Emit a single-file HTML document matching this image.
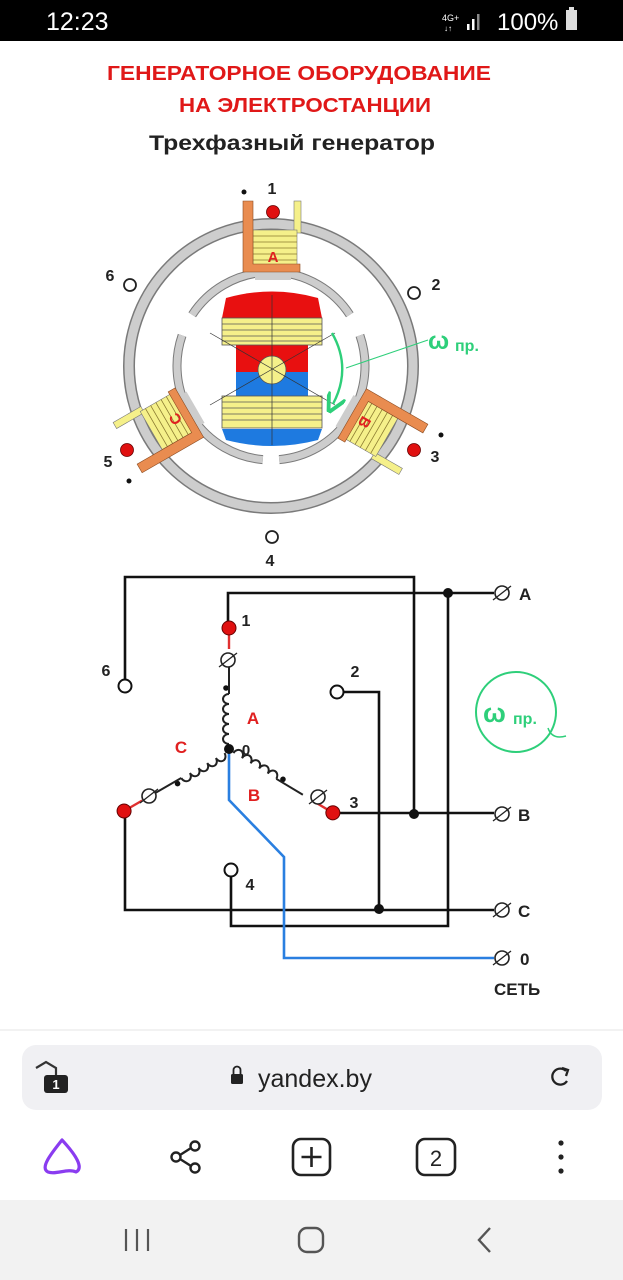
<!DOCTYPE html>
<html><head><meta charset="utf-8"><style>
html,body{margin:0;padding:0;background:#fff;}
body{width:623px;height:1280px;overflow:hidden;position:relative;font-family:"Liberation Sans",sans-serif;}
svg{position:absolute;left:0;top:0;}
</style></head><body>
<svg width="623" height="1280" viewBox="0 0 623 1280" xmlns="http://www.w3.org/2000/svg" font-family="Liberation Sans, sans-serif">
<defs>
<marker id="ga" markerWidth="8" markerHeight="8" refX="4" refY="4" orient="auto"><path d="M0,0 L8,4 L0,8" fill="none" stroke="#2ecf7a" stroke-width="1.6"/></marker>
<g id="gcoil">
  <rect x="294" y="201" width="7" height="32" fill="#f5f08a" stroke="#777" stroke-width="0.6"/>
  <rect x="253" y="230" width="44" height="35" fill="#f5f08a" stroke="#777" stroke-width="0.6"/>
  <g stroke="#8a7a30" stroke-width="0.8">
   <line x1="253" y1="236" x2="297" y2="236"/><line x1="253" y1="242" x2="297" y2="242"/><line x1="253" y1="248" x2="297" y2="248"/><line x1="253" y1="254" x2="297" y2="254"/><line x1="253" y1="260" x2="297" y2="260"/>
  </g>
  <path d="M243,201 H253 V264 H300 V272 H243 Z" fill="#e98c50" stroke="#8a4a20" stroke-width="0.6"/>
</g>
<g id="term"><circle r="7" fill="#fff" stroke="#222" stroke-width="1.6"/><line x1="-9" y1="7" x2="9" y2="-7" stroke="#222" stroke-width="1.3"/></g>
<g id="phase">
  <path d="M4,0 a5,6 0 0 1 10,0 a5,6 0 0 1 10,0 a5,6 0 0 1 10,0 a5,6 0 0 1 10,0 a5,6 0 0 1 10,0" fill="none" stroke="#222" stroke-width="2"/>
  <circle cx="60" cy="-3" r="2.8" fill="#111"/>
  <line x1="54" y1="0" x2="85" y2="0" stroke="#222" stroke-width="2"/>
  <line x1="99" y1="0" x2="114" y2="0" stroke="#e03030" stroke-width="2.4"/>
  <circle cx="120" cy="0" r="7" fill="#e01010" stroke="#600" stroke-width="1"/>
</g>
</defs>

<rect x="0" y="0" width="623" height="41" fill="#000"/>
<text x="46" y="30" font-size="25" fill="#fff">12:23</text>
<text x="442" y="21" font-size="9" fill="#fff">4G+</text>
<text x="444" y="31" font-size="8" fill="#fff">↓↑</text>
<rect x="467" y="24" width="2.5" height="6" fill="#fff"/><rect x="472" y="19" width="2.5" height="11" fill="#fff"/><rect x="477" y="14" width="2.5" height="16" fill="#888"/>
<text x="497" y="30" font-size="24" fill="#fff">100%</text>
<rect x="566" y="10" width="11" height="20" fill="#ddd"/><rect x="569" y="7" width="5" height="3" fill="#ddd"/>

<text x="107" y="80" font-size="20" font-weight="bold" fill="#e01818" textLength="384" lengthAdjust="spacingAndGlyphs">ГЕНЕРАТОРНОЕ  ОБОРУДОВАНИЕ</text>
<text x="179" y="112" font-size="20" font-weight="bold" fill="#e01818" textLength="252" lengthAdjust="spacingAndGlyphs">НА ЭЛЕКТРОСТАНЦИИ</text>
<text x="149" y="150" font-size="21" font-weight="bold" fill="#222" textLength="286" lengthAdjust="spacingAndGlyphs">Трехфазный генератор</text>

<circle cx="271" cy="366" r="142" fill="none" stroke="#7a7a7a" stroke-width="12"/>
<circle cx="271" cy="366" r="142" fill="none" stroke="#cdcdcd" stroke-width="9"/>
<g fill="none" stroke-linecap="butt">
 <path d="M192.2,314.8 A94,94 0 0 1 349.8,314.8" stroke="#7a7a7a" stroke-width="9"/>
 <path d="M359.9,335.4 A94,94 0 0 1 279.2,459.6" stroke="#7a7a7a" stroke-width="9"/>
 <path d="M262.8,459.6 A94,94 0 0 1 182.1,335.4" stroke="#7a7a7a" stroke-width="9"/>
 <path d="M192.2,314.8 A94,94 0 0 1 349.8,314.8" stroke="#cdcdcd" stroke-width="7"/>
 <path d="M359.9,335.4 A94,94 0 0 1 279.2,459.6" stroke="#cdcdcd" stroke-width="7"/>
 <path d="M262.8,459.6 A94,94 0 0 1 182.1,335.4" stroke="#cdcdcd" stroke-width="7"/>
</g>
<rect x="255" y="272" width="36" height="8" fill="#cdcdcd"/>
<use href="#gcoil"/>
<text x="273" y="262" font-size="15" font-weight="bold" fill="#e02020" text-anchor="middle">A</text>
<g transform="rotate(120 271 366)"><rect x="255" y="272" width="36" height="8" fill="#cdcdcd"/><use href="#gcoil"/><text x="273" y="262" font-size="15" font-weight="bold" fill="#e02020" text-anchor="middle">B</text></g>
<g transform="rotate(240 271 366)"><rect x="255" y="272" width="36" height="8" fill="#cdcdcd"/><use href="#gcoil"/><text x="273" y="262" font-size="15" font-weight="bold" fill="#e02020" text-anchor="middle">C</text></g>

<path d="M222,318 L226,298 Q272,285 318,298 L322,318 Z" fill="#e81010"/>
<path d="M222,429 L226,440 Q272,452 318,440 L322,429 Z" fill="#1e7ae0"/>
<rect x="236" y="345" width="72" height="27" fill="#e81010"/>
<rect x="236" y="372" width="72" height="26" fill="#1e7ae0"/>
<g fill="#f5f08a" stroke="#555" stroke-width="0.8">
 <rect x="222" y="318" width="100" height="27"/>
 <rect x="222" y="396" width="100" height="32"/>
</g>
<g stroke="#555" stroke-width="0.7">
 <line x1="222" y1="324" x2="322" y2="324"/><line x1="222" y1="330" x2="322" y2="330"/><line x1="222" y1="336" x2="322" y2="336"/><line x1="222" y1="341" x2="322" y2="341"/>
 <line x1="222" y1="402" x2="322" y2="402"/><line x1="222" y1="408" x2="322" y2="408"/><line x1="222" y1="414" x2="322" y2="414"/><line x1="222" y1="420" x2="322" y2="420"/>
</g>
<circle cx="272" cy="370" r="14" fill="#f5f08a" stroke="#555" stroke-width="0.8"/>
<g stroke="#333" stroke-width="0.7">
 <line x1="272" y1="295" x2="272" y2="445"/>
 <line x1="210" y1="333" x2="335" y2="405"/>
 <line x1="210" y1="405" x2="335" y2="333"/>
</g>
<path d="M332,333 Q352,368 333,404" fill="none" stroke="#2ecf7a" stroke-width="2.4" marker-end="url(#ga)"/>
<line x1="346" y1="368" x2="428" y2="340" stroke="#2ecf7a" stroke-width="1"/>
<text x="428" y="349" font-size="25" font-weight="bold" fill="#2ecf7a">ω</text>
<text x="455" y="351" font-size="16" font-weight="bold" fill="#2ecf7a">пр.</text>

<text x="272" y="194" font-size="16" font-weight="bold" fill="#222" text-anchor="middle">1</text>
<circle cx="244" cy="192" r="2.5" fill="#111"/>
<circle cx="273" cy="212" r="6.5" fill="#e01010" stroke="#600" stroke-width="0.8"/>
<circle cx="130" cy="285" r="6" fill="#fff" stroke="#222" stroke-width="1.8"/>
<text x="110" y="281" font-size="16" font-weight="bold" fill="#222" text-anchor="middle">6</text>
<circle cx="414" cy="293" r="6" fill="#fff" stroke="#222" stroke-width="1.8"/>
<text x="436" y="290" font-size="16" font-weight="bold" fill="#222" text-anchor="middle">2</text>
<circle cx="127" cy="450" r="6.5" fill="#e01010" stroke="#600" stroke-width="0.8"/>
<text x="108" y="467" font-size="16" font-weight="bold" fill="#222" text-anchor="middle">5</text>
<circle cx="129" cy="481" r="2.5" fill="#111"/>
<circle cx="414" cy="450" r="6.5" fill="#e01010" stroke="#600" stroke-width="0.8"/>
<text x="435" y="462" font-size="16" font-weight="bold" fill="#222" text-anchor="middle">3</text>
<circle cx="441" cy="435" r="2.5" fill="#111"/>
<circle cx="272" cy="537" r="6" fill="#fff" stroke="#222" stroke-width="1.8"/>
<text x="270" y="566" font-size="16" font-weight="bold" fill="#222" text-anchor="middle">4</text>

<g fill="none" stroke="#111" stroke-width="2.6">
 <path d="M125,680 V577 H414 V814"/>
 <path d="M228,627 V593 H494"/>
 <path d="M448,593 V926 H231 V876"/>
 <path d="M125,816 V910 H494"/>
 <path d="M341,692 H379 V910"/>
 <path d="M334,813 H494"/>
</g>
<path d="M229,750 V800 L284,857 V958 H494" fill="none" stroke="#2a7fe0" stroke-width="2.6"/>
<g fill="#111"><circle cx="448" cy="593" r="5"/><circle cx="414" cy="814" r="5"/><circle cx="379" cy="909" r="5"/></g>
<circle cx="125" cy="686" r="6.5" fill="#fff" stroke="#111" stroke-width="2"/>
<text x="106" y="676" font-size="16" font-weight="bold" fill="#222" text-anchor="middle">6</text>
<circle cx="337" cy="692" r="6.5" fill="#fff" stroke="#111" stroke-width="2"/>
<text x="355" y="677" font-size="16" font-weight="bold" fill="#222" text-anchor="middle">2</text>
<circle cx="231" cy="870" r="6.5" fill="#fff" stroke="#111" stroke-width="2"/>
<text x="250" y="890" font-size="16" font-weight="bold" fill="#222" text-anchor="middle">4</text>

<use href="#phase" transform="translate(229,748) rotate(-90)"/>
<use href="#phase" transform="translate(230,751) rotate(31)"/>
<use href="#phase" transform="translate(228,751) rotate(150)"/>
<use href="#term" x="228" y="660"/>
<use href="#term" x="318" y="797"/>
<use href="#term" x="149" y="796"/>
<circle cx="229" cy="749" r="5" fill="#111"/>
<text x="246" y="626" font-size="16" font-weight="bold" fill="#222" text-anchor="middle">1</text>
<text x="354" y="808" font-size="16" font-weight="bold" fill="#222" text-anchor="middle">3</text>
<text x="246" y="755" font-size="15" font-weight="bold" fill="#222" text-anchor="middle">0</text>
<text x="253" y="724" font-size="17" font-weight="bold" fill="#e02020" text-anchor="middle">A</text>
<text x="254" y="801" font-size="17" font-weight="bold" fill="#e02020" text-anchor="middle">B</text>
<text x="181" y="753" font-size="17" font-weight="bold" fill="#e02020" text-anchor="middle">C</text>

<use href="#term" x="502" y="593"/><use href="#term" x="502" y="814"/><use href="#term" x="502" y="910"/>
<g transform="translate(502,958)"><circle r="7" fill="#fff" stroke="#222" stroke-width="1.6"/><line x1="-9" y1="7" x2="9" y2="-7" stroke="#222" stroke-width="1.3"/></g>
<g font-size="17" font-weight="bold" fill="#222">
 <text x="519" y="600">A</text><text x="518" y="821">B</text><text x="518" y="917">C</text><text x="520" y="965">0</text>
 <text x="494" y="995">СЕТЬ</text>
</g>
<circle cx="516" cy="712" r="40" fill="none" stroke="#2ecf7a" stroke-width="2"/>
<path d="M548,728 Q552,740 566,736" fill="none" stroke="#2ecf7a" stroke-width="1.5"/>
<text x="483" y="722" font-size="27" font-weight="bold" fill="#2ecf7a">ω</text>
<text x="513" y="724" font-size="16" font-weight="bold" fill="#2ecf7a">пр.</text>

<line x1="0" y1="1030" x2="623" y2="1030" stroke="#e4e4e4" stroke-width="1"/>
<rect x="22" y="1045" width="580" height="65" rx="14" fill="#f0f0f3"/>
<path d="M36,1068 L46,1062 L56,1068 V1078" fill="none" stroke="#333" stroke-width="2.2"/>
<rect x="44" y="1075" width="24" height="18" rx="3" fill="#222"/>
<text x="56" y="1089" font-size="13" font-weight="bold" fill="#fff" text-anchor="middle">1</text>
<rect x="231" y="1074" width="12" height="10" rx="1.5" fill="#222"/>
<path d="M233.5,1074 V1070 a3.5,3.5 0 0 1 7,0 V1074" fill="none" stroke="#222" stroke-width="1.8"/>
<text x="258" y="1087" font-size="25" fill="#222">yandex.by</text>
<path d="M566,1071 A8,8 0 1 0 567,1081" fill="none" stroke="#222" stroke-width="2.3"/>
<path d="M562,1068 L568,1070 L566,1076" fill="none" stroke="#222" stroke-width="2.3"/>

<path d="M62,1140 C50,1155 40,1168 48,1172 C56,1175 68,1168 76,1172 C84,1168 76,1155 62,1140 Z" fill="none" stroke="#8a3cf0" stroke-width="3.2" stroke-linejoin="round"/>
<g fill="none" stroke="#222" stroke-width="2.4"><circle cx="176" cy="1157" r="4.5"/><circle cx="195" cy="1146" r="4.5"/><circle cx="195" cy="1168" r="4.5"/><line x1="180" y1="1155" x2="191" y2="1148"/><line x1="180" y1="1159" x2="191" y2="1166"/></g>
<rect x="293" y="1139" width="37" height="36" rx="8" fill="none" stroke="#222" stroke-width="2.6"/>
<path d="M311.5,1147 V1167 M301.5,1157 H321.5" stroke="#222" stroke-width="2.6"/>
<rect x="417" y="1139" width="38" height="36" rx="8" fill="none" stroke="#222" stroke-width="2.6"/>
<text x="436" y="1166" font-size="22" fill="#222" text-anchor="middle">2</text>
<g fill="#222"><circle cx="561" cy="1143" r="2.6"/><circle cx="561" cy="1157" r="2.6"/><circle cx="561" cy="1171" r="2.6"/></g>

<rect x="0" y="1200" width="623" height="80" fill="#f2f2f2"/>
<g stroke="#555" stroke-width="2.2"><line x1="126" y1="1229" x2="126" y2="1251"/><line x1="137" y1="1229" x2="137" y2="1251"/><line x1="148" y1="1229" x2="148" y2="1251"/></g>
<rect x="299" y="1228" width="24" height="24" rx="8" fill="none" stroke="#555" stroke-width="2.4"/>
<path d="M490,1228 L479,1240 L490,1252" fill="none" stroke="#555" stroke-width="2.4"/>
</svg>
</body></html>
